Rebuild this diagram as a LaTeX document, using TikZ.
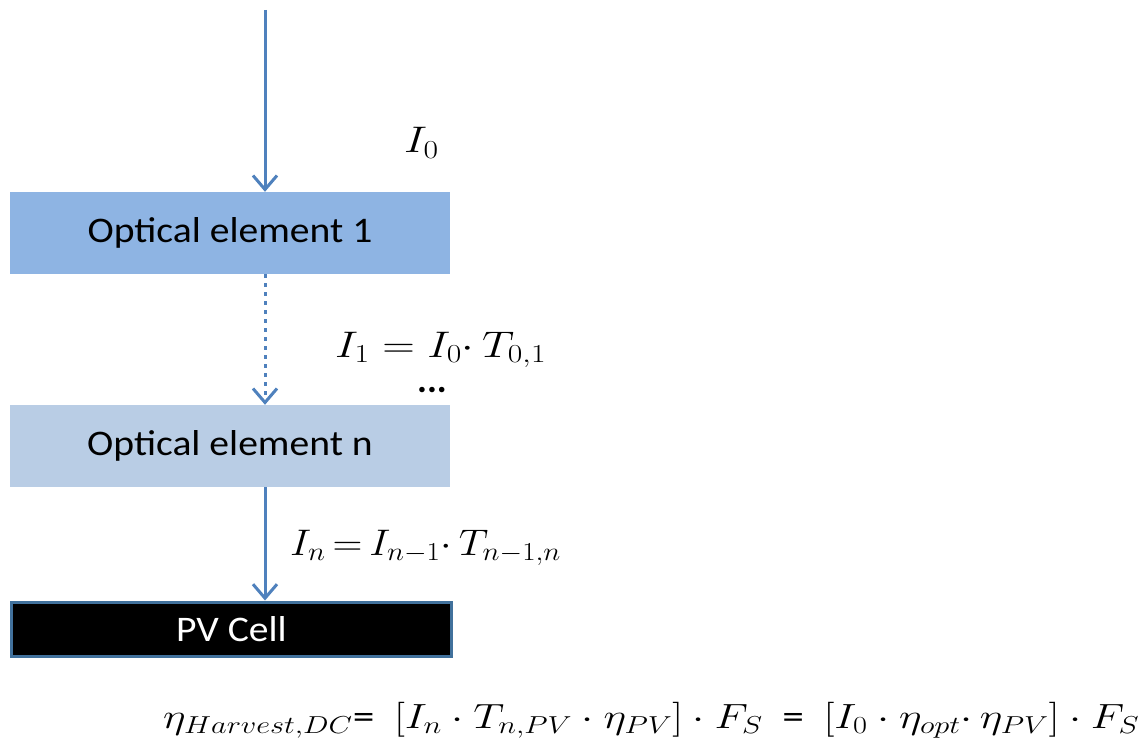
\RequirePackage{fix-cm}
\documentclass[tikz,border=0pt]{standalone}
\usepackage{fontspec}
\setmainfont{Carlito}
\usetikzlibrary{arrows.meta}
\definecolor{arrowblue}{HTML}{4F81BD}
\definecolor{boxone}{HTML}{8EB4E3}
\definecolor{boxn}{HTML}{B9CDE5}
\definecolor{pvborder}{HTML}{41719C}
\tikzset{
  flow/.style={draw=arrowblue, line width=3pt, -{Straight Barb[length=14pt,width=24pt,line width=3pt]}},
  dotflow/.style={flow, dash pattern=on 4pt off 5pt},
  elem/.style={minimum width=440pt, minimum height=82pt, inner sep=0pt, font=\fontsize{36}{40}\selectfont},
  lbl/.style={inner sep=0pt, font=\fontsize{37}{42}\selectfont}
}
\newcommand{\wide}[1]{\scalebox{1.22}[1]{#1}}
\begin{document}
\begin{tikzpicture}[x=1pt,y=-1pt]
\useasboundingbox (0,0) rectangle (1143,746);
\node[elem, fill=boxone] (e1) at (230,233) {\scalebox{1.1}[1]{Optical element 1}};
\node[elem, fill=boxn] (en) at (230,446) {\scalebox{1.1}[1]{Optical element n}};
\node[elem, minimum width=440pt, minimum height=54pt, fill=black, draw=pvborder, line width=3pt, text=white] (pv) at (231.5,629) {\scalebox{1.1}[1]{PV Cell}};
\coordinate (top) at (265,10);
\draw[flow] (top) -- (top |- e1.north);
\draw[dotflow] (e1.south -| top) -- (en.north -| top);
\draw[flow] (en.south -| top) -- (pv.north -| top);
\node[lbl, anchor=base west] (i0) at (404,153) {\wide{$I_0$}};
\node[lbl, anchor=base west] (i1) at (335,357) {\wide{$I_1 = I_0{\cdot}\, T_{0,1}$}};
\node[lbl, anchor=base] (dots) at (432,392) {\textbf{...}};
\node[lbl, anchor=base west] (in) at (290,555) {\scalebox{1.12}[1]{$I_n \mkern-2mu=\mkern-2mu I_{n-1}{\cdot}\, T_{n-1,n}$}};
\node[lbl, anchor=base west, font=\fontsize{35}{42}\selectfont] (eq) at (163,728) {\scalebox{1.24}[1]{$\eta_{Harvest,DC}$=\ \ $\Bigl[I_n\cdot T_{n,PV}\cdot \eta_{PV}\Bigr]\cdot F_S$ \ = \ $\Bigl[I_0\cdot \eta_{opt}{\cdot}\,\eta_{PV}\Bigr]\cdot F_S$}};
\end{tikzpicture}
\end{document}
